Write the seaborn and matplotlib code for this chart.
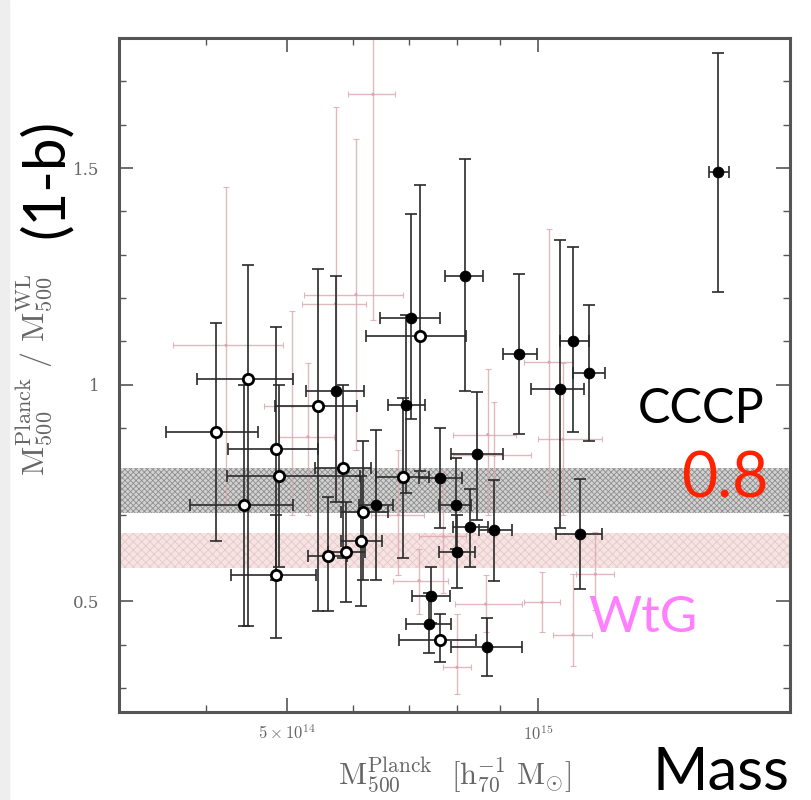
import numpy as np
import pandas as pd
import matplotlib
matplotlib.use("Agg")
import matplotlib.pyplot as plt
import matplotlib.ticker as mticker
import seaborn as sns

# ---------------- data (masses in units of 1e14 h70^-1 Msun) ----------------
# CCCP filled points
f_mass    = [16.4, 8.17, 7.05, 5.73, 6.95, 9.49, 11.0, 11.5, 10.6, 8.45, 7.62, 6.40, 7.96, 8.29, 8.86, 7.99, 11.2, 7.43, 7.39, 8.67]
f_mass_lo = [16.0, 7.74, 6.46, 5.27, 6.61, 9.06, 10.6, 11.0, 9.79, 7.87, 7.20, 6.10, 7.60, 7.90, 8.50, 7.60, 10.5, 7.06, 6.95, 7.87]
f_mass_hi = [16.9, 8.59, 7.62, 6.19, 7.31, 9.95, 11.5, 12.0, 11.35, 9.06, 8.10, 6.70, 8.30, 8.70, 9.31, 8.40, 11.9, 7.83, 7.87, 9.57]
f_ratio    = [1.491, 1.252, 1.154, 0.985, 0.954, 1.071, 1.102, 1.028, 0.990, 0.841, 0.786, 0.723, 0.723, 0.671, 0.665, 0.615, 0.655, 0.513, 0.448, 0.395]
f_ratio_lo = [1.215, 0.985, 0.920, 0.730, 0.750, 0.887, 0.890, 0.871, 0.670, 0.687, 0.670, 0.550, 0.620, 0.580, 0.548, 0.530, 0.529, 0.450, 0.380, 0.329]
f_ratio_hi = [1.766, 1.520, 1.395, 1.252, 1.160, 1.256, 1.318, 1.185, 1.333, 0.983, 0.900, 0.896, 0.830, 0.760, 0.780, 0.700, 0.783, 0.580, 0.520, 0.463]

# open points
o_mass    = [4.11, 4.49, 4.86, 4.90, 4.45, 4.86, 5.45, 5.84, 6.88, 7.21, 6.17, 6.14, 5.89, 5.60, 7.62]
o_mass_lo = [3.59, 3.90, 4.25, 4.24, 3.83, 4.29, 4.84, 5.40, 6.40, 6.22, 5.80, 5.80, 5.60, 5.30, 6.82]
o_mass_hi = [4.62, 5.09, 5.45, 6.11, 5.09, 5.42, 6.06, 6.30, 7.40, 8.20, 6.60, 6.50, 6.20, 5.90, 8.43]
o_ratio    = [0.890, 1.014, 0.852, 0.790, 0.723, 0.561, 0.951, 0.808, 0.787, 1.112, 0.706, 0.639, 0.613, 0.606, 0.411]
o_ratio_lo = [0.640, 0.444, 0.550, 0.580, 0.444, 0.416, 0.479, 0.600, 0.600, 0.800, 0.550, 0.490, 0.498, 0.478, 0.360]
o_ratio_hi = [1.142, 1.276, 1.133, 1.000, 1.000, 0.700, 1.268, 1.000, 0.970, 1.462, 0.870, 0.790, 0.730, 0.740, 0.470]

# WtG (pink) points
p_mass    = [6.34, 5.72, 6.05, 4.23, 5.08, 8.70, 10.3, 10.7, 8.86, 10.1, 11.0, 8.65, 7.99, 7.20, 11.7, 6.80, 7.70, 5.30]
p_mass_lo = [5.92, 5.22, 5.25, 3.66, 4.70, 7.90, 9.60, 10.0, 7.90, 9.60, 10.4, 7.95, 7.70, 6.70, 11.1, 6.30, 7.20, 4.90]
p_mass_hi = [6.73, 6.22, 6.89, 4.95, 5.50, 9.40, 11.0, 11.9, 9.80, 10.6, 11.6, 9.55, 8.30, 7.80, 12.3, 7.30, 8.20, 5.70]
p_ratio    = [1.670, 1.187, 1.208, 1.091, 0.950, 0.885, 1.052, 0.874, 0.837, 0.498, 0.423, 0.494, 0.348, 0.548, 0.563, 0.700, 0.650, 0.880]
p_ratio_lo = [1.150, 0.750, 0.850, 0.720, 0.700, 0.700, 0.750, 0.700, 0.720, 0.429, 0.352, 0.430, 0.287, 0.470, 0.480, 0.560, 0.520, 0.700]
p_ratio_hi = [1.850, 1.641, 1.568, 1.456, 1.170, 1.037, 1.360, 1.050, 0.960, 0.567, 0.564, 0.560, 0.472, 0.620, 0.660, 0.850, 0.800, 1.050]

cccp_band = (0.705, 0.807)
wtg_band = (0.578, 0.659)

x_ticks = [5e14, 1e15]
x_ticklabels = [r"$5\times10^{14}$", r"$10^{15}$"]
y_ticks = [0.5, 1.0, 1.5]
y_ticklabels = ["0.5", "1", "1.5"]

# ---------------- styling ----------------
sns.set_style("ticks")
plt.rcParams["mathtext.fontset"] = "cm"
plt.rcParams["font.family"] = ["DejaVu Serif"]
plt.rcParams["hatch.linewidth"] = 0.6

fig = plt.figure(figsize=(8.11, 8.0), dpi=100)
fig.patch.set_facecolor("white")
ax = fig.add_axes([119/811, 1-712/800, (790-119)/811, (712-38)/800])

def df_of(m, mlo, mhi, r, rlo, rhi):
    d = pd.DataFrame({"mass": np.array(m)*1e14, "mlo": np.array(mlo)*1e14, "mhi": np.array(mhi)*1e14,
                      "ratio": r, "rlo": rlo, "rhi": rhi})
    return d

df_f = df_of(f_mass, f_mass_lo, f_mass_hi, f_ratio, f_ratio_lo, f_ratio_hi)
df_o = df_of(o_mass, o_mass_lo, o_mass_hi, o_ratio, o_ratio_lo, o_ratio_hi)
df_p = df_of(p_mass, p_mass_lo, p_mass_hi, p_ratio, p_ratio_lo, p_ratio_hi)

# bands
ax.axhspan(*cccp_band, facecolor="#d2d2d2", edgecolor="#8e8e8e", hatch="xxxxxx", linewidth=0, zorder=1)
ax.axhspan(*wtg_band, facecolor="#f6e4e4", edgecolor="#e8c6c6", hatch="xxxx", linewidth=0, zorder=1)

def errs(d):
    return ([d.mass - d.mlo, d.mhi - d.mass], [d.ratio - d.rlo, d.rhi - d.ratio])

xe, ye = errs(df_p)
ax.errorbar(df_p.mass, df_p.ratio, xerr=xe, yerr=ye, fmt="none", ecolor="#dba6ae",
            elinewidth=1.0, capsize=2, capthick=0.8, alpha=0.8, zorder=2)
sns.scatterplot(data=df_p, x="mass", y="ratio", ax=ax, s=5, color="#dba6ae", edgecolor="none", zorder=2)

xe, ye = errs(df_o)
ax.errorbar(df_o.mass, df_o.ratio, xerr=xe, yerr=ye, fmt="none", ecolor="#2a2a2a",
            elinewidth=1.2, capsize=4, capthick=1.2, zorder=3)
xe, ye = errs(df_f)
ax.errorbar(df_f.mass, df_f.ratio, xerr=xe, yerr=ye, fmt="none", ecolor="#2a2a2a",
            elinewidth=1.2, capsize=4, capthick=1.2, zorder=3)

sns.scatterplot(data=df_o, x="mass", y="ratio", ax=ax, s=55, facecolor="white", edgecolor="black",
                linewidth=2.0, zorder=4)
sns.scatterplot(data=df_f, x="mass", y="ratio", ax=ax, s=60, color="black", edgecolor="black", zorder=4)

ax.set_xscale("log")
ax.set_xlim(3.15e14, 2.0e15)
ax.set_ylim(0.245, 1.80)

ax.xaxis.set_major_locator(mticker.FixedLocator(x_ticks))
ax.xaxis.set_major_formatter(mticker.FixedFormatter(x_ticklabels))
ax.xaxis.set_minor_locator(mticker.LogLocator(base=10, subs=np.arange(2, 10)))
ax.xaxis.set_minor_formatter(mticker.NullFormatter())
ax.yaxis.set_major_locator(mticker.FixedLocator(y_ticks))
ax.yaxis.set_major_formatter(mticker.FixedFormatter(y_ticklabels))
ax.yaxis.set_minor_locator(mticker.MultipleLocator(0.1))

ax.tick_params(which="both", direction="in", top=True, right=True, colors="#555555",
               labelcolor="#666666", labelsize=12)
ax.tick_params(axis="x", which="major", length=10, width=1.2, pad=9)
ax.tick_params(axis="y", which="major", length=10, width=1.2, pad=14)
ax.tick_params(which="minor", length=5, width=1.0)
for sp in ax.spines.values():
    sp.set_linewidth(2.2)
    sp.set_color("#555555")
    sp.set_visible(True)

ax.set_xlabel(r"$\mathrm{M_{500}^{Planck}\ \ [h_{70}^{-1}\ M_{\odot}]}$", fontsize=22, color="#666666", labelpad=8)
ax.set_ylabel(r"$\mathrm{M_{500}^{Planck}\ /\ M_{500}^{WL}}$", fontsize=23, color="#666666", labelpad=14)

# annotations
ann = ["Lato", "DejaVu Sans"]
fig.text(46/811, 1-178/800, "(1-b)", rotation=90, ha="center", va="center", fontsize=42, color="black", family=ann)
fig.text(638/811, 1-423/800, "CCCP", ha="left", va="baseline", fontsize=35, color="black", family=ann)
fig.text(681/811, 1-497/800, "0.8", ha="left", va="baseline", fontsize=45, color="#ff2200", family=ann)
fig.text(588/811, 1-632/800, "WtG", ha="left", va="baseline", fontsize=37, color="#ff80ff", family=ann)
fig.text(652/811, 1-790/800, "Mass", ha="left", va="baseline", fontsize=43, color="black", family=ann)

# light grey strip at left edge of the picture
fig.patches.append(plt.Rectangle((0, 0), 9/811, 1, transform=fig.transFigure, color="#eeeeee", zorder=0))

fig.savefig("out.png", dpi=100)
